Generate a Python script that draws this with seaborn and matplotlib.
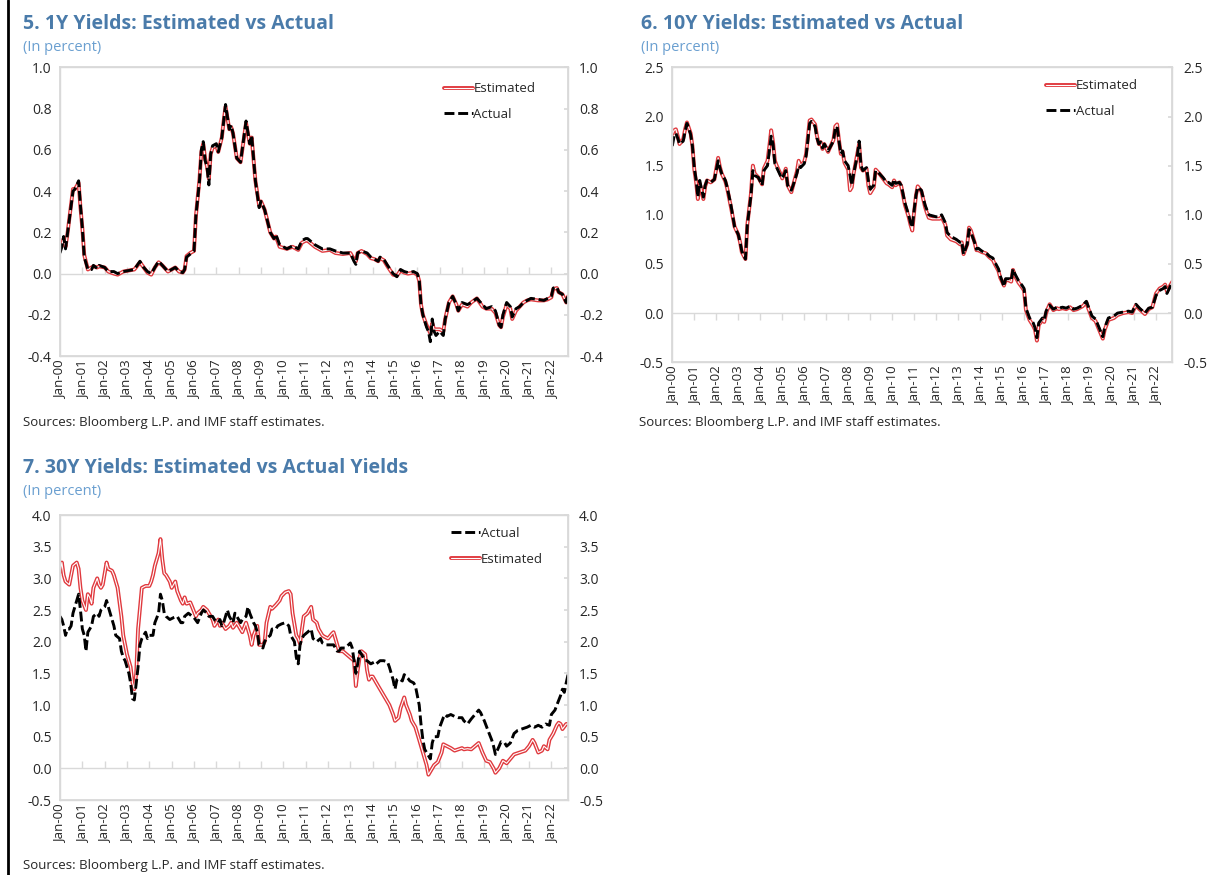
import matplotlib
matplotlib.use("Agg")
import matplotlib.pyplot as plt
import matplotlib.dates as mdates
import matplotlib.patheffects as pe
import matplotlib.ticker as mticker
from matplotlib.lines import Line2D
import pandas as pd
import seaborn as sns

# ---------------- 1Y yields ----------------
y1_dates = [
    "2000-01", "2000-02", "2000-03", "2000-04", "2000-05", "2000-08", "2000-09", "2000-11", "2000-12",
    "2001-01", "2001-02", "2001-04", "2001-06", "2001-07", "2001-09", "2001-10",
    "2002-01", "2002-03", "2002-06", "2002-08", "2002-11",
    "2003-02", "2003-05", "2003-08", "2003-10", "2003-12",
    "2004-02", "2004-04", "2004-06", "2004-08", "2004-11",
    "2005-01", "2005-03", "2005-05", "2005-07", "2005-08", "2005-09", "2005-11",
    "2006-01", "2006-02", "2006-04", "2006-05", "2006-06", "2006-07", "2006-08", "2006-09", "2006-10", "2006-11",
    "2007-01", "2007-02", "2007-04", "2007-05", "2007-06", "2007-08", "2007-09", "2007-10", "2007-12",
    "2008-02", "2008-05", "2008-07", "2008-08", "2008-10", "2008-12",
    "2009-01", "2009-03", "2009-06", "2009-08", "2009-09", "2009-11",
    "2010-03", "2010-06", "2010-09", "2010-11",
    "2011-01", "2011-02", "2011-06", "2011-10",
    "2012-02", "2012-05", "2012-09",
    "2013-01", "2013-03", "2013-04", "2013-05", "2013-07", "2013-10", "2013-12",
    "2014-02", "2014-04", "2014-05", "2014-07", "2014-09", "2014-12",
    "2015-02", "2015-04", "2015-06", "2015-08", "2015-11",
    "2016-01", "2016-02", "2016-03", "2016-04", "2016-06", "2016-07", "2016-08", "2016-09", "2016-10", "2016-11",
    "2017-01", "2017-03", "2017-04", "2017-06", "2017-08", "2017-10", "2017-11",
    "2018-01", "2018-04", "2018-06", "2018-09", "2018-12",
    "2019-02", "2019-05", "2019-07", "2019-09", "2019-10", "2019-11",
    "2020-01", "2020-03", "2020-04", "2020-06", "2020-08", "2020-10", "2020-12",
    "2021-02", "2021-06", "2021-09", "2021-11",
    "2022-01", "2022-02", "2022-04", "2022-05", "2022-07", "2022-09", "2022-10",
]
y1_actual = [
    0.10, 0.13, 0.18, 0.12, 0.19, 0.40, 0.41, 0.45, 0.33,
    0.22, 0.08, 0.02, 0.02, 0.04, 0.025, 0.04,
    0.03, 0.01, 0.01, 0.0, 0.01,
    0.015, 0.02, 0.06, 0.03, 0.01,
    0.0, 0.03, 0.06, 0.04, 0.01,
    0.02, 0.03, 0.01, 0.005, 0.02, 0.08, 0.095,
    0.11, 0.28, 0.45, 0.60, 0.64, 0.55, 0.52, 0.43, 0.58, 0.62,
    0.63, 0.59, 0.66, 0.74, 0.82, 0.70, 0.72, 0.68, 0.56,
    0.54, 0.74, 0.63, 0.67, 0.45, 0.32,
    0.35, 0.31, 0.20, 0.17, 0.19, 0.14,
    0.12, 0.135, 0.12, 0.16,
    0.17, 0.17, 0.14, 0.12,
    0.12, 0.11, 0.10,
    0.10, 0.06, 0.045, 0.10, 0.11, 0.10, 0.08,
    0.07, 0.06, 0.08, 0.07, 0.04, 0.0,
    -0.015, 0.02, 0.01, 0.005, 0.01,
    0.0, -0.03, -0.15, -0.20, -0.26, -0.28, -0.33, -0.22, -0.28, -0.30,
    -0.28, -0.30, -0.22, -0.14, -0.11, -0.15, -0.18,
    -0.14, -0.15, -0.14, -0.12, -0.15,
    -0.17, -0.16, -0.18, -0.25, -0.26, -0.20,
    -0.14, -0.16, -0.21, -0.17, -0.16, -0.14, -0.13,
    -0.12, -0.125, -0.13, -0.12,
    -0.11, -0.07, -0.065, -0.09, -0.10, -0.14, -0.10,
]
y1_estimated = [
    0.12, 0.14, 0.17, 0.13, 0.19, 0.41, 0.41, 0.44, 0.32,
    0.22, 0.09, 0.02, 0.03, 0.035, 0.03, 0.035,
    0.03, 0.01, 0.0, -0.005, 0.01,
    0.015, 0.02, 0.055, 0.03, 0.005,
    -0.005, 0.03, 0.055, 0.04, 0.01,
    0.02, 0.03, 0.01, 0.005, 0.02, 0.085, 0.10,
    0.11, 0.28, 0.46, 0.59, 0.63, 0.56, 0.52, 0.46, 0.58, 0.61,
    0.62, 0.59, 0.66, 0.74, 0.81, 0.70, 0.71, 0.68, 0.56,
    0.54, 0.73, 0.63, 0.66, 0.45, 0.33,
    0.35, 0.31, 0.20, 0.17, 0.18, 0.13,
    0.12, 0.13, 0.115, 0.15,
    0.16, 0.16, 0.13, 0.11,
    0.115, 0.10, 0.095,
    0.10, 0.07, 0.06, 0.10, 0.11, 0.095, 0.075,
    0.07, 0.06, 0.075, 0.065, 0.035, -0.005,
    -0.01, 0.015, 0.005, 0.0, 0.005,
    -0.005, -0.035, -0.15, -0.20, -0.25, -0.27, -0.29, -0.24, -0.27, -0.27,
    -0.27, -0.28, -0.22, -0.14, -0.11, -0.15, -0.18,
    -0.15, -0.16, -0.14, -0.12, -0.16,
    -0.17, -0.17, -0.19, -0.25, -0.26, -0.21,
    -0.15, -0.17, -0.22, -0.18, -0.16, -0.14, -0.13,
    -0.125, -0.13, -0.13, -0.125,
    -0.115, -0.075, -0.07, -0.09, -0.10, -0.14, -0.11,
]

# ---------------- 10Y yields ----------------
y10_dates = [
    "2000-01", "2000-02", "2000-03", "2000-04", "2000-05", "2000-07", "2000-08", "2000-09", "2000-11", "2000-12",
    "2001-01", "2001-02", "2001-03", "2001-04", "2001-05", "2001-06", "2001-07", "2001-08", "2001-10", "2001-12",
    "2002-02", "2002-03", "2002-04", "2002-06", "2002-07", "2002-09", "2002-11",
    "2003-01", "2003-02", "2003-03", "2003-05", "2003-06", "2003-08", "2003-09", "2003-10", "2003-12",
    "2004-02", "2004-03", "2004-05", "2004-06", "2004-07", "2004-08", "2004-09", "2004-10", "2004-12",
    "2005-01", "2005-03", "2005-04", "2005-06", "2005-07", "2005-09", "2005-10", "2005-11",
    "2006-01", "2006-02", "2006-03", "2006-04", "2006-05", "2006-07", "2006-08", "2006-09", "2006-10", "2006-11", "2006-12",
    "2007-02", "2007-03", "2007-05", "2007-06", "2007-07", "2007-08", "2007-09", "2007-10", "2007-11",
    "2008-01", "2008-02", "2008-03", "2008-04", "2008-06", "2008-07", "2008-08", "2008-09", "2008-11", "2008-12",
    "2009-01", "2009-03", "2009-04", "2009-06", "2009-08", "2009-10", "2009-11",
    "2010-01", "2010-02", "2010-03", "2010-05", "2010-06", "2010-08", "2010-10", "2010-11", "2010-12",
    "2011-01", "2011-02", "2011-03", "2011-05", "2011-07", "2011-08", "2011-09", "2011-11",
    "2012-01", "2012-03", "2012-04", "2012-06", "2012-07", "2012-09", "2012-12",
    "2013-02", "2013-03", "2013-04", "2013-06", "2013-07", "2013-08", "2013-10", "2013-11", "2013-12",
    "2014-02", "2014-04", "2014-06", "2014-08", "2014-09", "2014-11", "2014-12",
    "2015-02", "2015-03", "2015-05", "2015-06", "2015-07", "2015-08", "2015-10", "2015-12",
    "2016-01", "2016-02", "2016-04", "2016-06", "2016-07", "2016-08", "2016-09", "2016-11", "2016-12",
    "2017-01", "2017-02", "2017-03", "2017-05", "2017-07", "2017-08", "2017-10", "2017-12",
    "2018-02", "2018-04", "2018-06", "2018-07", "2018-09", "2018-11", "2018-12",
    "2019-02", "2019-04", "2019-06", "2019-08", "2019-09", "2019-11",
    "2020-02", "2020-04", "2020-07", "2020-10", "2020-12",
    "2021-02", "2021-04", "2021-07", "2021-09", "2021-11",
    "2022-01", "2022-03", "2022-05", "2022-06", "2022-07", "2022-09", "2022-10",
]
y10_actual = [
    1.70, 1.80, 1.83, 1.78, 1.72, 1.75, 1.85, 1.93, 1.82, 1.70,
    1.48, 1.35, 1.18, 1.35, 1.26, 1.18, 1.30, 1.35, 1.33, 1.36,
    1.55, 1.48, 1.42, 1.35, 1.28, 1.10, 0.88,
    0.80, 0.72, 0.63, 0.55, 0.90, 1.20, 1.45, 1.40, 1.38,
    1.30, 1.45, 1.50, 1.65, 1.80, 1.72, 1.52, 1.48, 1.40,
    1.37, 1.45, 1.30, 1.25, 1.30, 1.42, 1.50, 1.48,
    1.52, 1.60, 1.75, 1.93, 1.95, 1.90, 1.78, 1.72, 1.74, 1.68, 1.72,
    1.65, 1.68, 1.75, 1.88, 1.90, 1.75, 1.62, 1.65, 1.55,
    1.50, 1.40, 1.30, 1.42, 1.60, 1.75, 1.50, 1.45, 1.48, 1.35,
    1.26, 1.30, 1.45, 1.42, 1.38, 1.33, 1.33,
    1.30, 1.36, 1.32, 1.33, 1.30, 1.12, 1.00, 0.92, 0.87,
    1.05, 1.20, 1.28, 1.25, 1.10, 1.05, 1.00, 0.99,
    0.98, 0.98, 1.00, 0.92, 0.82, 0.78, 0.75,
    0.72, 0.73, 0.60, 0.70, 0.85, 0.82, 0.72, 0.65, 0.66,
    0.63, 0.62, 0.58, 0.56, 0.52, 0.45, 0.38,
    0.27, 0.35, 0.35, 0.33, 0.45, 0.40, 0.33, 0.28,
    0.25, 0.05, -0.05, -0.10, -0.15, -0.25, -0.10, -0.05, -0.07,
    0.02, 0.06, 0.08, 0.04, 0.06, 0.05, 0.06, 0.05,
    0.07, 0.04, 0.05, 0.06, 0.08, 0.12, 0.07,
    -0.03, -0.06, -0.15, -0.24, -0.15, -0.05,
    -0.03, 0.0, 0.01, 0.02, 0.01,
    0.09, 0.05, 0.0, 0.05, 0.06,
    0.18, 0.23, 0.25, 0.27, 0.20, 0.28, 0.30,
]
y10_estimated = [
    1.82, 1.86, 1.87, 1.80, 1.72, 1.77, 1.87, 1.94, 1.83, 1.70,
    1.46, 1.33, 1.16, 1.32, 1.24, 1.16, 1.29, 1.35, 1.33, 1.36,
    1.58, 1.49, 1.42, 1.34, 1.27, 1.08, 0.88,
    0.80, 0.72, 0.62, 0.55, 0.90, 1.22, 1.50, 1.42, 1.38,
    1.31, 1.47, 1.55, 1.70, 1.86, 1.74, 1.55, 1.50, 1.42,
    1.37, 1.47, 1.30, 1.23, 1.30, 1.44, 1.55, 1.50,
    1.54, 1.62, 1.78, 1.96, 1.97, 1.92, 1.80, 1.72, 1.74, 1.67, 1.72,
    1.64, 1.68, 1.76, 1.90, 1.92, 1.76, 1.62, 1.64, 1.53,
    1.46, 1.25, 1.28, 1.42, 1.62, 1.72, 1.48, 1.45, 1.47, 1.30,
    1.22, 1.28, 1.46, 1.42, 1.37, 1.32, 1.31,
    1.28, 1.35, 1.30, 1.33, 1.29, 1.10, 0.98, 0.90, 0.84,
    1.03, 1.20, 1.29, 1.24, 1.08, 1.02, 0.97, 0.96,
    0.96, 0.96, 0.98, 0.90, 0.79, 0.75, 0.73,
    0.70, 0.72, 0.60, 0.70, 0.87, 0.84, 0.72, 0.64, 0.64,
    0.62, 0.61, 0.57, 0.54, 0.50, 0.43, 0.36,
    0.28, 0.34, 0.33, 0.32, 0.44, 0.38, 0.31, 0.26,
    0.23, 0.03, -0.07, -0.13, -0.17, -0.28, -0.12, -0.07, -0.09,
    0.0, 0.05, 0.09, 0.03, 0.05, 0.04, 0.05, 0.04,
    0.06, 0.03, 0.04, 0.05, 0.07, 0.11, 0.05,
    -0.05, -0.08, -0.17, -0.26, -0.17, -0.07,
    -0.05, -0.02, 0.0, 0.01, 0.0,
    0.08, 0.04, -0.01, 0.04, 0.06,
    0.20, 0.25, 0.27, 0.29, 0.22, 0.29, 0.32,
]

# ---------------- 30Y yields ----------------
y30_est_dates = [
    "2000-01", "2000-02", "2000-03", "2000-04", "2000-06", "2000-07", "2000-08", "2000-10", "2000-11", "2000-12",
    "2001-01", "2001-03", "2001-04", "2001-05", "2001-06", "2001-07", "2001-09", "2001-10", "2001-11", "2001-12",
    "2002-02", "2002-03", "2002-05", "2002-06", "2002-08", "2002-10", "2002-11",
    "2003-01", "2003-03", "2003-04", "2003-05", "2003-06", "2003-07", "2003-09", "2003-11",
    "2004-01", "2004-02", "2004-03", "2004-04", "2004-06", "2004-07", "2004-08", "2004-09", "2004-10", "2004-12",
    "2005-01", "2005-03", "2005-04", "2005-06", "2005-07", "2005-08", "2005-09", "2005-11", "2005-12",
    "2006-02", "2006-03", "2006-05", "2006-06", "2006-08", "2006-09", "2006-11", "2006-12",
    "2007-02", "2007-03", "2007-04", "2007-06", "2007-08", "2007-09", "2007-10", "2007-12",
    "2008-01", "2008-03", "2008-05", "2008-07", "2008-08", "2008-09", "2008-11", "2008-12",
    "2009-02", "2009-03", "2009-04", "2009-06", "2009-07", "2009-09", "2009-11", "2009-12",
    "2010-02", "2010-04", "2010-05", "2010-06", "2010-08", "2010-09", "2010-10", "2010-11", "2010-12",
    "2011-02", "2011-03", "2011-04", "2011-05", "2011-07", "2011-08", "2011-10", "2011-11",
    "2012-01", "2012-03", "2012-04", "2012-06", "2012-07", "2012-09", "2012-11",
    "2013-01", "2013-03", "2013-04", "2013-05", "2013-06", "2013-07", "2013-09", "2013-10", "2013-11", "2013-12",
    "2014-01", "2014-03", "2014-04", "2014-06", "2014-08", "2014-10", "2014-12",
    "2015-01", "2015-03", "2015-04", "2015-06", "2015-07", "2015-09", "2015-10", "2015-12",
    "2016-02", "2016-04", "2016-06", "2016-07", "2016-09", "2016-10", "2016-12",
    "2017-02", "2017-03", "2017-05", "2017-07", "2017-09", "2017-11",
    "2018-01", "2018-02", "2018-04", "2018-06", "2018-08", "2018-10", "2018-12",
    "2019-02", "2019-04", "2019-06", "2019-07", "2019-09", "2019-11",
    "2020-01", "2020-03", "2020-05", "2020-08", "2020-11",
    "2021-01", "2021-03", "2021-04", "2021-06", "2021-08", "2021-09", "2021-11", "2021-12",
    "2022-02", "2022-04", "2022-05", "2022-06", "2022-07", "2022-09", "2022-10",
]
y30_estimated = [
    3.10, 3.25, 3.05, 2.95, 2.90, 3.05, 3.20, 3.25, 3.15, 2.85,
    2.65, 2.50, 2.75, 2.70, 2.60, 2.85, 3.00, 2.90, 2.85, 2.90,
    3.25, 3.15, 3.12, 3.05, 2.85, 2.40, 2.10,
    1.80, 1.60, 1.35, 1.25, 1.50, 2.20, 2.85, 2.88,
    2.88, 2.95, 3.05, 3.20, 3.40, 3.62, 3.30, 3.08, 3.05, 2.95,
    2.85, 2.95, 2.80, 2.65, 2.60, 2.70, 2.60, 2.62, 2.55,
    2.40, 2.45, 2.50, 2.55, 2.50, 2.45, 2.35, 2.25,
    2.35, 2.25, 2.30, 2.20, 2.25, 2.30, 2.22, 2.30,
    2.25, 2.15, 2.30, 2.10, 1.95, 2.10, 2.25, 1.95,
    1.95, 2.00, 2.30, 2.55, 2.52, 2.58, 2.65, 2.72,
    2.78, 2.80, 2.75, 2.45, 2.10, 2.05, 1.97, 2.20, 2.40,
    2.45, 2.50, 2.55, 2.35, 2.30, 2.20, 2.10, 2.08,
    2.05, 2.12, 2.15, 1.95, 1.85, 1.85, 1.80,
    1.75, 1.70, 1.30, 1.55, 1.75, 1.85, 1.80, 1.55, 1.40, 1.45,
    1.45, 1.35, 1.30, 1.20, 1.10, 1.00, 0.85,
    0.75, 0.80, 0.95, 1.12, 1.00, 0.85, 0.75, 0.65,
    0.45, 0.25, 0.05, -0.10, 0.0, 0.05, 0.10,
    0.25, 0.38, 0.35, 0.32, 0.28, 0.30,
    0.32, 0.30, 0.31, 0.30, 0.35, 0.40, 0.25,
    0.12, 0.10, 0.0, -0.07, 0.0, 0.12,
    0.08, 0.15, 0.22, 0.25, 0.28,
    0.35, 0.45, 0.40, 0.25, 0.28, 0.35, 0.30, 0.45,
    0.55, 0.68, 0.72, 0.70, 0.62, 0.70, 0.70,
]
y30_act_dates = [
    "2000-01", "2000-02", "2000-03", "2000-04", "2000-05", "2000-06", "2000-07", "2000-08", "2000-10", "2000-11", "2000-12",
    "2001-01", "2001-02", "2001-03", "2001-04", "2001-05", "2001-06", "2001-07", "2001-09", "2001-10", "2001-11",
    "2002-01", "2002-02", "2002-03", "2002-04", "2002-06", "2002-07", "2002-09", "2002-10", "2002-11", "2002-12",
    "2003-02", "2003-03", "2003-04", "2003-05", "2003-07", "2003-08", "2003-09", "2003-11", "2003-12",
    "2004-01", "2004-03", "2004-04", "2004-06", "2004-07", "2004-08", "2004-09", "2004-10", "2004-12",
    "2005-02", "2005-04", "2005-06", "2005-07", "2005-08", "2005-10", "2005-12",
    "2006-01", "2006-03", "2006-05", "2006-06", "2006-08", "2006-09", "2006-11", "2006-12",
    "2007-02", "2007-03", "2007-04", "2007-05", "2007-07", "2007-08", "2007-10", "2007-11", "2007-12",
    "2008-02", "2008-03", "2008-05", "2008-06", "2008-07", "2008-09", "2008-10", "2008-11", "2008-12",
    "2009-02", "2009-03", "2009-04", "2009-06", "2009-07", "2009-09", "2009-10", "2009-12",
    "2010-02", "2010-04", "2010-05", "2010-07", "2010-08", "2010-09", "2010-10", "2010-11", "2010-12",
    "2011-02", "2011-04", "2011-05", "2011-07", "2011-09", "2011-10", "2011-12",
    "2012-02", "2012-04", "2012-06", "2012-07", "2012-08", "2012-10", "2012-12",
    "2013-01", "2013-02", "2013-04", "2013-05", "2013-06", "2013-07", "2013-09", "2013-10", "2013-12",
    "2014-02", "2014-03", "2014-05", "2014-07", "2014-09", "2014-10", "2014-12",
    "2015-01", "2015-02", "2015-03", "2015-05", "2015-06", "2015-08", "2015-09", "2015-11", "2015-12",
    "2016-02", "2016-03", "2016-04", "2016-05", "2016-07", "2016-08", "2016-09", "2016-10", "2016-12",
    "2017-01", "2017-03", "2017-04", "2017-05", "2017-07", "2017-09", "2017-11",
    "2018-01", "2018-02", "2018-04", "2018-06", "2018-08", "2018-10", "2018-11",
    "2019-01", "2019-03", "2019-05", "2019-06", "2019-07", "2019-09", "2019-10", "2019-12",
    "2020-01", "2020-03", "2020-05", "2020-07", "2020-09", "2020-12",
    "2021-02", "2021-04", "2021-06", "2021-08", "2021-10", "2021-12",
    "2022-01", "2022-03", "2022-04", "2022-06", "2022-07", "2022-08", "2022-09", "2022-10",
]
y30_actual = [
    2.40, 2.35, 2.25, 2.10, 2.20, 2.20, 2.25, 2.45, 2.65, 2.75, 2.50,
    2.20, 2.10, 1.85, 2.15, 2.20, 2.25, 2.40, 2.45, 2.40, 2.50,
    2.55, 2.65, 2.55, 2.45, 2.25, 2.10, 2.05, 1.85, 1.75, 1.70,
    1.50, 1.35, 1.10, 1.08, 1.60, 1.95, 2.05, 2.15, 2.05,
    2.10, 2.10, 2.30, 2.45, 2.75, 2.65, 2.45, 2.40, 2.35,
    2.38, 2.40, 2.30, 2.30, 2.40, 2.45, 2.40,
    2.38, 2.30, 2.45, 2.50, 2.45, 2.40, 2.40, 2.35,
    2.30, 2.35, 2.25, 2.30, 2.50, 2.40, 2.30, 2.45, 2.40,
    2.30, 2.35, 2.40, 2.55, 2.45, 2.30, 2.25, 2.15, 1.95,
    1.90, 2.00, 2.05, 2.10, 2.20, 2.20, 2.25, 2.28,
    2.30, 2.25, 2.10, 2.00, 1.75, 1.65, 1.95, 2.05, 2.10,
    2.15, 2.20, 2.05, 2.00, 2.05, 1.98, 1.95,
    1.95, 1.95, 1.85, 1.85, 1.90, 1.90, 1.95,
    1.98, 1.90, 1.50, 1.65, 1.85, 1.80, 1.70, 1.70, 1.65,
    1.68, 1.65, 1.70, 1.70, 1.68, 1.60, 1.40,
    1.25, 1.40, 1.42, 1.38, 1.48, 1.42, 1.38, 1.35, 1.30,
    1.00, 0.70, 0.45, 0.30, 0.20, 0.15, 0.40, 0.50, 0.50,
    0.65, 0.80, 0.85, 0.82, 0.85, 0.82, 0.80,
    0.80, 0.75, 0.70, 0.78, 0.85, 0.92, 0.88,
    0.75, 0.60, 0.45, 0.35, 0.22, 0.35, 0.42, 0.40,
    0.35, 0.40, 0.55, 0.60, 0.62, 0.65,
    0.68, 0.65, 0.68, 0.65, 0.70, 0.68,
    0.85, 0.92, 1.00, 1.15, 1.25, 1.20, 1.35, 1.48,
]

panel_titles = [
    "5. 1Y Yields: Estimated vs Actual",
    "6. 10Y Yields: Estimated vs Actual",
    "7. 30Y Yields: Estimated vs Actual Yields",
]
subtitle = "(In percent)"
source_note = "Sources: Bloomberg L.P. and IMF staff estimates."
y1_ticks = [-0.4, -0.2, 0.0, 0.2, 0.4, 0.6, 0.8, 1.0]
y10_ticks = [-0.5, 0.0, 0.5, 1.0, 1.5, 2.0, 2.5]
y30_ticks = [-0.5, 0.0, 0.5, 1.0, 1.5, 2.0, 2.5, 3.0, 3.5, 4.0]

sns.set_theme(style="white")
plt.rcParams["font.family"] = ["Open Sans", "DejaVu Sans"]
plt.rcParams["axes.unicode_minus"] = False

TITLE_BLUE = "#4A7BAA"
SUB_BLUE = "#6A9FD0"
RED = "#E0393E"
FRAME = "#D9D9D9"
TEXT = "#262626"
X_START = pd.Timestamp("2000-01-01")
X_END = pd.Timestamp("2022-10-01")


def yield_panel(ax, est_dates, est_vals, act_dates, act_vals, ticks, legend_first, tick_dir, legend_anchor):
    est = pd.DataFrame({"date": pd.to_datetime(est_dates), "value": est_vals})
    act = pd.DataFrame({"date": pd.to_datetime(act_dates), "value": act_vals})

    # red "double" line for the estimate, dashed black for the actual
    sns.lineplot(data=est, x="date", y="value", ax=ax, color="white", linewidth=0.8,
                 label="Estimated", estimator=None,
                 path_effects=[pe.Stroke(linewidth=2.8, foreground=RED), pe.Normal()])
    sns.lineplot(data=act, x="date", y="value", ax=ax, color="black", linewidth=2.1,
                 linestyle=(0, (3.4, 1.3)), label="Actual", estimator=None)

    ylim = (ticks[0], ticks[-1])
    ax.set_ylim(ylim)
    ax.set_xlim(X_START, X_END)
    ax.set_yticks(ticks)
    ax.yaxis.set_major_formatter(mticker.FormatStrFormatter("%.1f"))
    ax.set_xlabel("")
    ax.set_ylabel("")

    # zero line with yearly tick marks on it
    ax.axhline(0, color=FRAME, linewidth=1.0, zorder=0)
    years = pd.date_range("2001-01-01", "2022-01-01", freq="YS")
    ax.plot(years, [0] * len(years), linestyle="none", marker=2 if tick_dir == "up" else 3,
            markersize=5, color=FRAME, markeredgewidth=1.0, zorder=0)

    ax.xaxis.set_major_locator(mdates.YearLocator(1, month=1))
    ax.xaxis.set_major_formatter(mdates.DateFormatter("%b-%y"))
    ax.tick_params(axis="x", rotation=90, length=0, pad=3, labelsize=9.5, labelcolor=TEXT)
    ax.tick_params(axis="y", length=0, pad=6, labelsize=10, labelcolor=TEXT)
    for sp in ax.spines.values():
        sp.set_color(FRAME)
        sp.set_linewidth(1.0)

    # mirrored scale on the right
    ax2 = ax.twinx()
    ax2.set_ylim(ylim)
    ax2.set_yticks(ticks)
    ax2.yaxis.set_major_formatter(mticker.FormatStrFormatter("%.1f"))
    ax2.tick_params(axis="y", direction="in", length=3, color=FRAME, pad=8, labelsize=10, labelcolor=TEXT)
    ax2.grid(False)
    for sp in ax2.spines.values():
        sp.set_color(FRAME)

    handles, labels = ax.get_legend_handles_labels()
    if legend_first == "Actual":
        handles, labels = handles[::-1], labels[::-1]
    leg = ax.legend(handles, labels, loc="upper left", bbox_to_anchor=legend_anchor, frameon=False,
                    fontsize=9.5, handlelength=2.2, handletextpad=0.05, labelspacing=0.95,
                    borderpad=0, borderaxespad=0)
    for t in leg.get_texts():
        t.set_color(TEXT)


fig = plt.figure(figsize=(12.29, 8.75), dpi=100)

ax1 = fig.add_axes([0.0488, 0.593, 0.4134, 0.330])
yield_panel(ax1, y1_dates, y1_estimated, y1_dates, y1_actual, y1_ticks, "Estimated", "up", (0.755, 0.948))

ax6 = fig.add_axes([0.547, 0.586, 0.407, 0.337])
yield_panel(ax6, y10_dates, y10_estimated, y10_dates, y10_actual, y10_ticks, "Estimated", "down", (0.748, 0.96))

ax7 = fig.add_axes([0.0488, 0.0857, 0.4134, 0.3257])
yield_panel(ax7, y30_est_dates, y30_estimated, y30_act_dates, y30_actual, y30_ticks, "Actual", "up", (0.77, 0.958))

# titles, subtitles and source notes
title_pos = [(0.0187, 0.973), (0.5216, 0.973), (0.0187, 0.465)]
for (tx, ty), title in zip(title_pos, panel_titles):
    fig.text(tx, ty, title, fontsize=14, fontweight="bold", color=TITLE_BLUE, va="center", ha="left")
    fig.text(tx, ty - 0.027, subtitle, fontsize=10.5, color=SUB_BLUE, va="center", ha="left")

for sx, sy in [(0.0187, 0.517), (0.52, 0.517), (0.0187, 0.0103)]:
    fig.text(sx, sy, source_note, fontsize=9.5, color=TEXT, va="center", ha="left")

# left page border seen in the reference
fig.add_artist(Line2D([0.0068, 0.0068], [0, 1], transform=fig.transFigure, color="black", linewidth=2))

fig.savefig("out.png", dpi=100)
